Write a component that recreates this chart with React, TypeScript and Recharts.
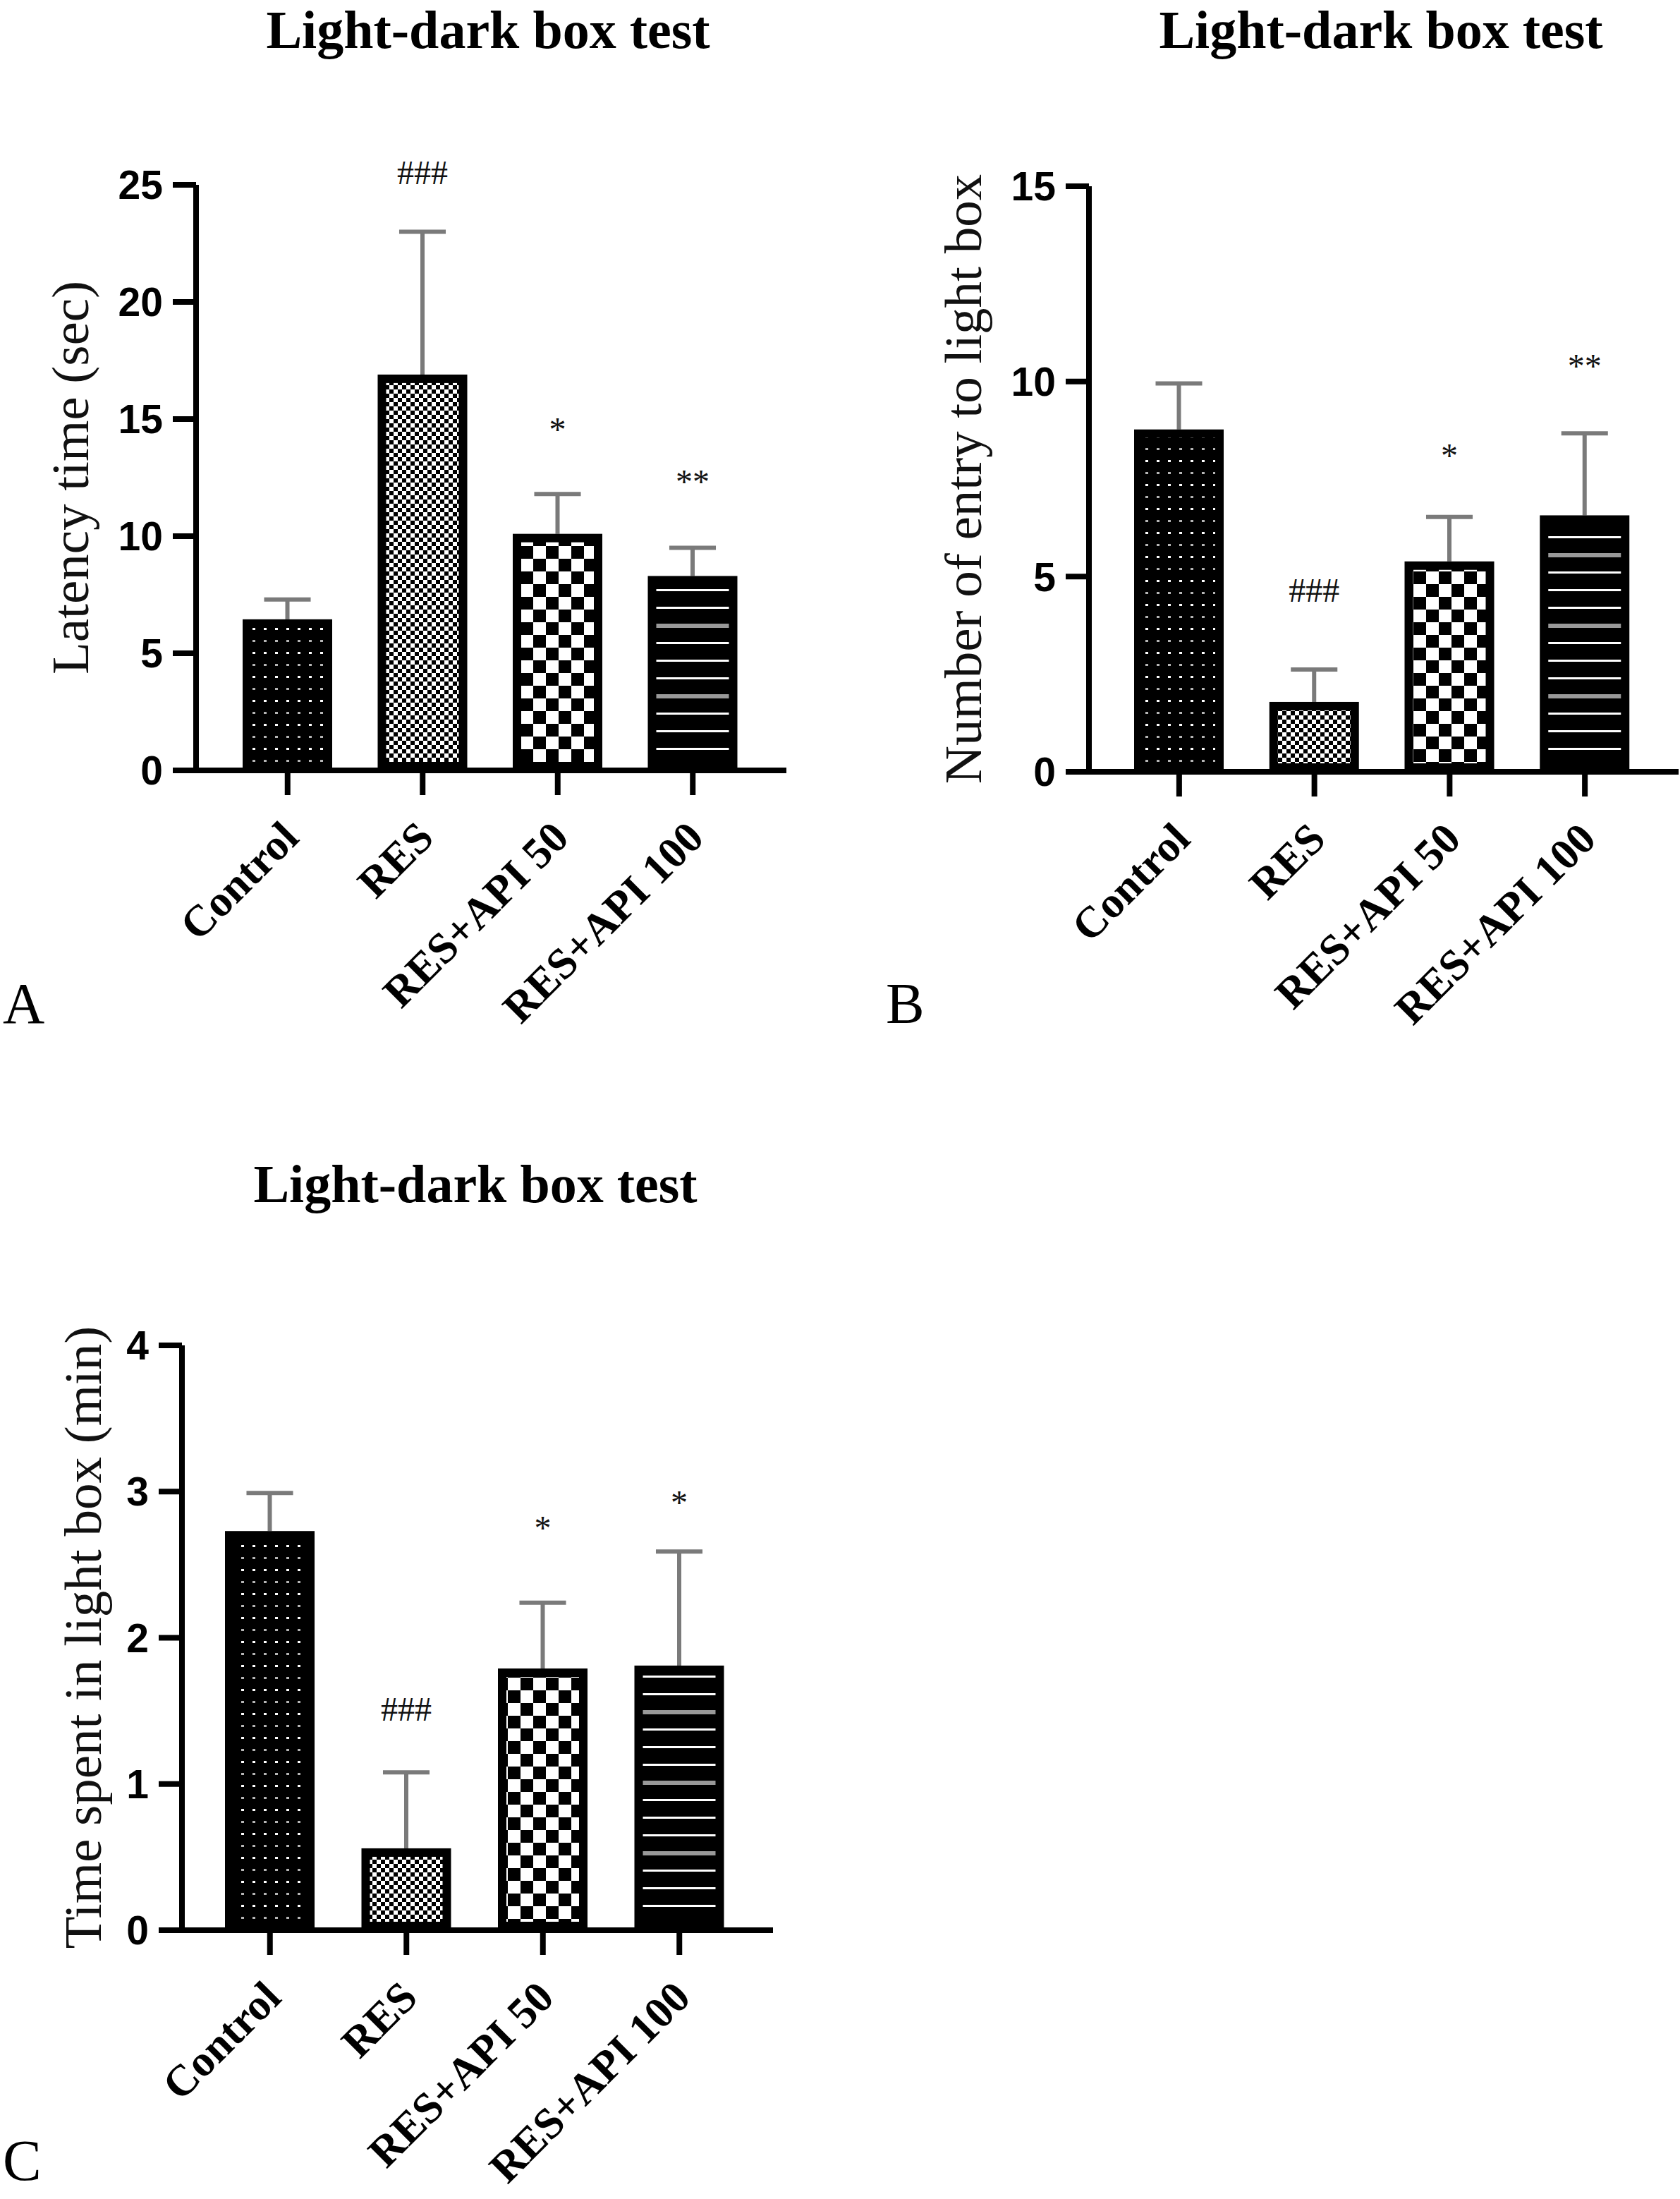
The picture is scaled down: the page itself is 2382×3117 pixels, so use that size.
import React from 'react';
import { BarChart, Bar, XAxis, YAxis } from 'recharts';

// groups and fill patterns (same order in every panel)
const groups = ['Control', 'RES', 'RES+API 50', 'RES+API 100'];
const patterns = ['dots', 'fineCheck', 'check', 'lines'];

// A: latency time (sec)
const latencyMean = [6.45, 16.9, 10.1, 8.3];
const latencySd = [0.85, 6.1, 1.7, 1.2];
const latencyMarks = ['', '###', '*', '**'];
const latencyMarkAt = [0, 25.5, 14.8, 12.55];
const latencyTicks = [0, 5, 10, 15, 20, 25];

// B: number of entries to light box
const entryMean = [8.77, 1.79, 5.39, 6.57];
const entrySd = [1.18, 0.83, 1.14, 2.1];
const entryMarks = ['', '###', '*', '**'];
const entryMarkAt = [0, 4.64, 8.24, 10.54];
const entryTicks = [0, 5, 10, 15];

// C: time spent in light box (min)
const timeMean = [2.73, 0.56, 1.79, 1.81];
const timeSd = [0.26, 0.52, 0.45, 0.78];
const timeMarks = ['', '###', '*', '*'];
const timeMarkAt = [0, 1.51, 2.79, 2.965];
const timeTicks = [0, 1, 2, 3, 4];

const serif = "'Liberation Serif', 'Times New Roman', serif";
const sans = "'Liberation Sans', Arial, sans-serif";

const makeRows = (mean: number[], sd: number[], marks: string[], markAt: number[]) =>
  groups.map((name, i) => ({
    name,
    mean: mean[i],
    sd: sd[i],
    mark: marks[i],
    markAt: markAt[i],
    pattern: patterns[i],
  }));

const latencyRows = makeRows(latencyMean, latencySd, latencyMarks, latencyMarkAt);
const entryRows = makeRows(entryMean, entrySd, entryMarks, entryMarkAt);
const timeRows = makeRows(timeMean, timeSd, timeMarks, timeMarkAt);

// bar with thick black border, upper-only SD whisker and significance mark
const BarShape = (props: any) => {
  const { x, y, width, height, payload } = props;
  const perUnit = height / payload.mean;
  const bottom = y + height;
  const errTop = bottom - (payload.mean + payload.sd) * perUnit;
  const cx = x + width / 2;
  const capW = width * 0.52;
  const sw = 12;
  const markY = bottom - payload.markAt * perUnit;
  return (
    <g>
      <line x1={cx} x2={cx} y1={y} y2={errTop} stroke="#7a7a7a" strokeWidth={6} />
      <line x1={cx - capW / 2} x2={cx + capW / 2} y1={errTop} y2={errTop} stroke="#7a7a7a" strokeWidth={6} />
      <rect
        x={x + sw / 2}
        y={y + sw / 2}
        width={width - sw}
        height={height - sw}
        fill={`url(#pat-${payload.pattern})`}
        stroke="#000"
        strokeWidth={sw}
      />
      {payload.mark ? (
        <text
          x={cx}
          y={markY}
          dy={payload.mark.includes('#') ? '0.33em' : '0.5em'}
          textAnchor="middle"
          fontFamily={serif}
          fontSize={48}
          fill="#111"
        >
          {payload.mark}
        </text>
      ) : null}
    </g>
  );
};

const XTick = (props: any) => {
  const { x, y, payload } = props;
  const ax = x - 12;
  return (
    <text
      x={ax}
      y={y}
      dy="0.7em"
      textAnchor="end"
      transform={`rotate(-45, ${ax}, ${y})`}
      fontFamily={serif}
      fontWeight={700}
      fontSize={62}
      fill="#000"
    >
      {payload.value}
    </text>
  );
};

type PanelProps = {
  rows: any[];
  ticks: number[];
  left: number;
  top: number;
  width: number;
  height: number;
  marginTop: number;
  marginRight: number;
  yWidth: number;
  xHeight: number;
  padLeft: number;
  padRight: number;
};

const Panel = ({ rows, ticks, left, top, width, height, marginTop, marginRight, yWidth, xHeight, padLeft, padRight }: PanelProps) => (
  <div style={{ position: 'absolute', left, top }}>
    <BarChart width={width} height={height} data={rows} margin={{ top: marginTop, right: marginRight, left: 0, bottom: 0 }}>
      <XAxis
        dataKey="name"
        interval={0}
        height={xHeight}
        padding={{ left: padLeft, right: padRight }}
        axisLine={{ stroke: '#000', strokeWidth: 8 }}
        tickLine={{ stroke: '#000', strokeWidth: 8 }}
        tickSize={35}
        tickMargin={33}
        tick={<XTick />}
      />
      <YAxis
        width={yWidth}
        domain={[ticks[0], ticks[ticks.length - 1]]}
        ticks={ticks}
        interval={0}
        axisLine={{ stroke: '#000', strokeWidth: 8 }}
        tickLine={{ stroke: '#000', strokeWidth: 8 }}
        tickSize={33}
        tickMargin={14}
        tick={{ fill: '#000', fontSize: 57, fontWeight: 700, fontFamily: sans }}
      />
      <Bar dataKey="mean" barSize={127} shape={BarShape} isAnimationActive={false} />
    </BarChart>
  </div>
);

const titleStyle = { fontFamily: serif, fontWeight: 700, fontSize: 76, fill: '#000' };
const yTitleStyle = { fontFamily: serif, fontSize: 75, fill: '#111' };
const letterStyle = { fontFamily: serif, fontSize: 82, fill: '#000' };

const App = () => (
  <div style={{ position: 'absolute', left: 0, top: 0, width: 2382, height: 3117, background: '#fff', overflow: 'hidden' }}>
    <svg width={0} height={0} style={{ position: 'absolute' }}>
      <defs>
        <pattern id="pat-dots" width={16} height={34} patternUnits="userSpaceOnUse">
          <rect width={16} height={34} fill="#000" />
          <rect x={6} y={6} width={4} height={3} fill="#fff" />
          <rect x={6} y={23} width={4} height={3} fill="#b5b5b5" />
        </pattern>
        <pattern id="pat-fineCheck" width={12} height={12} patternUnits="userSpaceOnUse">
          <rect width={12} height={12} fill="#fff" />
          <rect width={6} height={6} fill="#000" />
          <rect x={6} y={6} width={6} height={6} fill="#000" />
        </pattern>
        <pattern id="pat-check" width={36} height={36} patternUnits="userSpaceOnUse">
          <rect width={36} height={36} fill="#fff" />
          <rect width={18} height={18} fill="#000" />
          <rect x={18} y={18} width={18} height={18} fill="#000" />
        </pattern>
        <pattern id="pat-lines" width={10} height={100} patternUnits="userSpaceOnUse">
          <rect width={10} height={100} fill="#000" />
          <rect y={10} width={10} height={3} fill="#fff" />
          <rect y={35} width={10} height={3} fill="#fff" />
          <rect y={60} width={10} height={3} fill="#fff" />
          <rect y={84} width={10} height={6} fill="#999" />
        </pattern>
      </defs>
    </svg>

    <Panel rows={latencyRows} ticks={latencyTicks} left={0} top={0} width={1180} height={1620}
      marginTop={262} marginRight={65} yWidth={278} xHeight={528} padLeft={34} padRight={37} />
    <Panel rows={entryRows} ticks={entryTicks} left={1266} top={0} width={1116} height={1620}
      marginTop={264} marginRight={2} yWidth={278} xHeight={526} padLeft={32} padRight={37} />
    <Panel rows={timeRows} ticks={timeTicks} left={0} top={1640} width={1180} height={1477}
      marginTop={267} marginRight={84} yWidth={258} xHeight={381} padLeft={28} padRight={36} />

    <svg width={2382} height={3117} style={{ position: 'absolute', left: 0, top: 0, pointerEvents: 'none' }}>
      <text x={692} y={68} textAnchor="middle" {...titleStyle}>Light-dark box test</text>
      <text x={1958} y={68} textAnchor="middle" {...titleStyle}>Light-dark box test</text>
      <text x={674} y={1704} textAnchor="middle" {...titleStyle}>Light-dark box test</text>

      <text x={125} y={677} textAnchor="middle" transform="rotate(-90, 125, 677)" {...yTitleStyle}>Latency time (sec)</text>
      <text x={1391} y={679} textAnchor="middle" transform="rotate(-90, 1391, 679)" {...yTitleStyle}>Number of entry to light box</text>
      <text x={143} y={2321} textAnchor="middle" transform="rotate(-90, 143, 2321)" {...yTitleStyle}>Time spent in light box (min)</text>

      <text x={4} y={1450} {...letterStyle}>A</text>
      <text x={1256} y={1450} {...letterStyle}>B</text>
      <text x={4} y={3090} {...letterStyle}>C</text>
    </svg>
  </div>
);

export default App;
